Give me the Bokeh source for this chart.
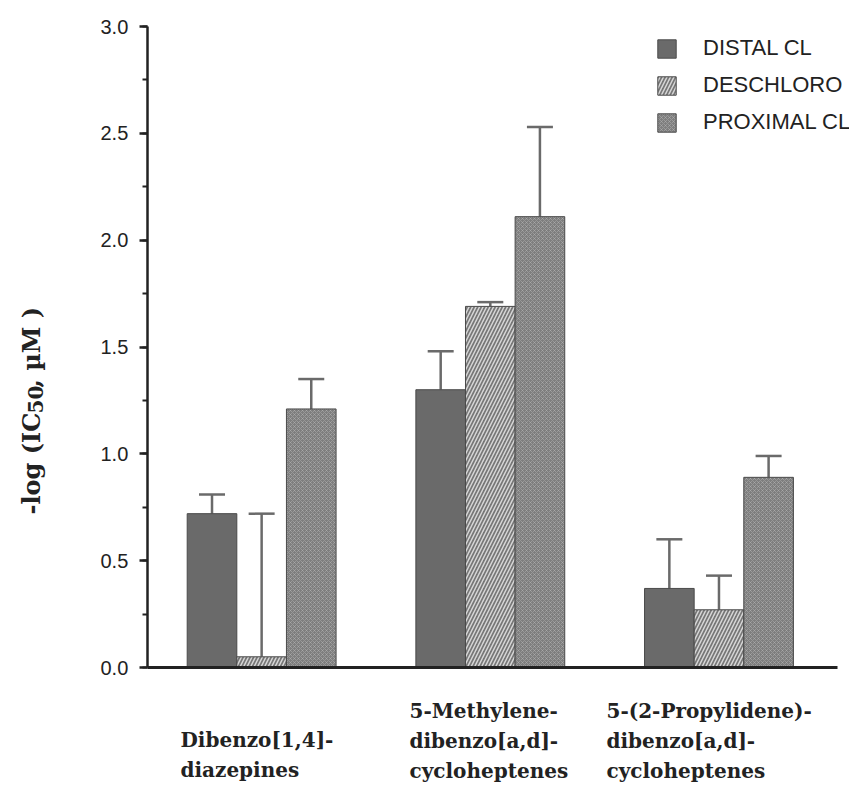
import math
from bokeh.plotting import figure
from bokeh.models import (ColumnDataSource, Range1d, Whisker, TeeHead, Legend, LegendItem,
                          Label, LinearAxis, SingleIntervalTicker, PrintfTickFormatter)
from bokeh.transform import dodge
from bokeh.embed import file_html
from bokeh.resources import INLINE

# ---------------- data ----------------
groups = ["Dibenzo[1,4]-diazepines",
          "5-Methylene-dibenzo[a,d]-cycloheptenes",
          "5-(2-Propylidene)-dibenzo[a,d]-cycloheptenes"]
group_label_lines = [["Dibenzo[1,4]-", "diazepines"],
                     ["5-Methylene-", "dibenzo[a,d]-", "cycloheptenes"],
                     ["5-(2-Propylidene)-", "dibenzo[a,d]-", "cycloheptenes"]]
series_names = ["DISTAL CL", "DESCHLORO", "PROXIMAL CL"]
distal = [0.72, 1.30, 0.37]
distal_err = [0.09, 0.18, 0.23]
deschloro = [0.05, 1.69, 0.27]
deschloro_err = [0.67, 0.02, 0.16]
proximal = [1.21, 2.11, 0.89]
proximal_err = [0.14, 0.42, 0.10]
y_ticks_interval = 0.5
y_min, y_max = 0.0, 3.0

# ---------------- layout (pixels) ----------------
W, H = 849, 793
AX_X, AX_Y0, AX_Y3 = 146.8, 667.0, 26.0     # y-axis x, pixel of y=0 and of y=3
XU = 228.67                                # px per category slot
YU = (AX_Y0 - AX_Y3) / (y_max - y_min)     # px per y unit

p = figure(width=W, height=H,
           x_range=Range1d(-AX_X / XU, (W - AX_X) / XU),
           y_range=Range1d(-(H - AX_Y0) / YU, y_max + AX_Y3 / YU),
           x_axis_type=None, y_axis_type=None,
           output_backend="svg", toolbar_location=None,
           min_border_left=0, min_border_right=0, min_border_top=0, min_border_bottom=0)
p.outline_line_color = None
p.grid.visible = False
p.background_fill_color = "white"
p.border_fill_color = "white"

yax = LinearAxis(fixed_location=0, bounds=(y_min, y_max),
                 ticker=SingleIntervalTicker(interval=y_ticks_interval, num_minor_ticks=2),
                 formatter=PrintfTickFormatter(format="%.1f"))
yax.axis_line_width = 2.5
yax.axis_line_color = "#222222"
yax.major_tick_line_width = 2.5
yax.major_tick_line_color = "#222222"
yax.major_tick_out = 8
yax.major_tick_in = 0
yax.minor_tick_line_width = 2
yax.minor_tick_line_color = "#222222"
yax.minor_tick_out = 5
yax.minor_tick_in = 0
yax.major_label_text_font = "Liberation Sans"
yax.major_label_text_font_size = "20px"
yax.major_label_text_color = "#222222"
yax.major_label_standoff = 11
p.add_layout(yax, "left")

xax = LinearAxis(fixed_location=0, bounds=(0, len(groups) + 0.02))
xax.axis_line_width = 3
xax.axis_line_color = "#222222"
xax.major_tick_line_color = None
xax.minor_tick_line_color = None
xax.major_label_text_font_size = "0px"
xax.major_label_text_alpha = 0
p.add_layout(xax, "below")

bw = 0.217
offsets = [-bw, 0.0, bw]
values = [distal, deschloro, proximal]
errors = [distal_err, deschloro_err, proximal_err]
styles = [
    dict(fill_color="#6a6a6a", hatch_pattern=None),
    dict(fill_color="#767676", hatch_pattern="/", hatch_color="#d6d6d6", hatch_scale=7, hatch_weight=1.5),
    dict(fill_color="#7e7e7e", hatch_pattern="x", hatch_color="#c4c4c4", hatch_scale=4, hatch_weight=1.0,
         hatch_alpha=0.4),
]
centers = [i + 0.5 for i in range(len(groups))]

renderers = []
for name, vals, errs, off, st in zip(series_names, values, errors, offsets, styles):
    src = ColumnDataSource(dict(pos=centers, cat=groups, val=vals,
                                upper=[v + e for v, e in zip(vals, errs)]))
    kw = {k: v for k, v in st.items() if v is not None}
    r = p.vbar(x=dodge("pos", off), top="val", bottom=0, width=bw, source=src,
               line_color="#4a4a4a", line_width=1, **kw)
    renderers.append(r)
    wh = Whisker(source=src, base=dodge("pos", off), upper="upper", lower="val",
                 line_color="#6a6a6a", line_width=2.5,
                 upper_head=TeeHead(size=26, line_color="#6a6a6a", line_width=2.5), lower_head=None)
    p.add_layout(wh)

legend = Legend(items=[LegendItem(label=n, renderers=[r]) for n, r in zip(series_names, renderers)],
                location=(655, H - 135), padding=0, margin=0, spacing=11, glyph_width=23,
                glyph_height=23, label_standoff=25, label_text_font="Liberation Sans",
                label_text_font_size="22px", label_text_color="#222222", border_line_color=None,
                background_fill_alpha=0, label_height=23)
p.add_layout(legend, "center")


def dx(px):
    return (px - AX_X) / XU


def dy(py):
    return (AX_Y0 - py) / YU


# category labels below the axis
label_left_px = [180, 409, 606]
label_first_line_px = [739, 710, 710]
line_step = 30
for lines, lx, ly in zip(group_label_lines, label_left_px, label_first_line_px):
    for i, t in enumerate(lines):
        p.add_layout(Label(x=dx(lx), y=dy(ly + i * line_step), text=t,
                           text_font="DejaVu Serif", text_font_style="bold", text_font_size="20px",
                           text_color="#222222", text_align="left", text_baseline="middle"))

# y-axis title with subscript
ytitle = dict(text_font="DejaVu Serif", text_font_style="bold", text_color="#222222",
              angle=math.pi / 2, text_align="left", text_baseline="middle")
yl_x, yl_start = 31, 514
p.add_layout(Label(x=dx(yl_x), y=dy(yl_start), text="-log  (IC", text_font_size="24px", **ytitle))
p.add_layout(Label(x=dx(yl_x + 4), y=dy(yl_start - 101), text="50", text_font_size="20px", **ytitle))
p.add_layout(Label(x=dx(yl_x), y=dy(yl_start - 127), text=", \u00b5M )", text_font_size="24px", **ytitle))

open("out.html", "w").write(file_html(p, INLINE))
